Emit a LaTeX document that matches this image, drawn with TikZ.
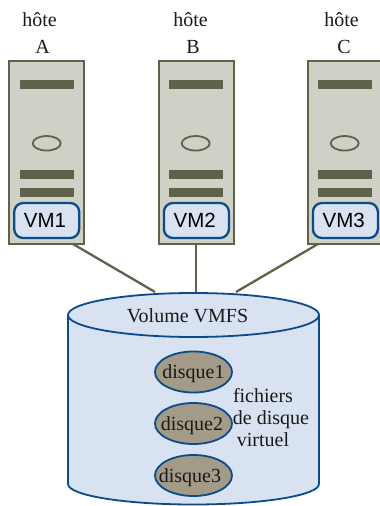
\documentclass[tikz,border=0pt]{standalone}
\usepackage{fontspec}
\setmainfont{Liberation Serif}
\newfontfamily\vmfont{Liberation Sans}
\usetikzlibrary{shapes.geometric}
\definecolor{hostfill}{HTML}{D0D1C6}
\definecolor{hostline}{HTML}{60614A}
\definecolor{bluefill}{HTML}{D8E2F1}
\definecolor{blueline}{HTML}{0B4A8B}
\definecolor{diskfill}{HTML}{A39B87}
\tikzset{
  hostbox/.style={draw=hostline,fill=hostfill,line width=2.2pt,minimum width=75pt,minimum height=183pt,inner sep=0pt},
  hostbar/.style={fill=hostline,draw=none,minimum width=54pt,minimum height=9pt,inner sep=0pt},
  hostled/.style={ellipse,draw=hostline,line width=1.8pt,minimum width=28pt,minimum height=14.5pt,inner sep=0pt},
  vmbox/.style={draw=blueline,fill=bluefill,line width=2.3pt,rounded corners=9pt,minimum width=65pt,minimum height=35pt,inner sep=0pt},
  vmtext/.style={anchor=base,font=\vmfont\fontsize{20.5}{23}\selectfont,text=black,inner sep=0pt},
  disk/.style={ellipse,draw=blueline,fill=diskfill,line width=1.8pt,minimum width=77pt,minimum height=41pt,inner sep=0pt},
  lbl/.style={anchor=base,font=\fontsize{20}{23}\selectfont,inner sep=0pt,text=black!90},
  link/.style={draw=hostline,line width=2.3pt},
  cyl/.style={draw=blueline,fill=bluefill,line width=1.8pt}
}
\begin{document}
\begin{tikzpicture}[x=1pt,y=-1pt]
\useasboundingbox (0,0) rectangle (380,506);
% hosts
\foreach \n/\vm/\dx/\bx/\tx/\lx in {A/VM1/0/0/39.5/42.5,B/VM2/149/149.7/190.5/193,C/VM3/298/298.7/341.5/344}{
  \node[lbl] (t\n) at (\tx,27) {hôte};
  \node[lbl] (l\n) at (\lx,53) {\n};
  \node[hostbox] (host\n) at (46.5+\bx,152.5) {};
  \node[hostbar] (barone\n) at (47+\dx,84.5) {};
  \node[hostbar] (bartwo\n) at (47+\dx,174.5) {};
  \node[hostbar] (barthree\n) at (47+\dx,192.5) {};
  \node[hostled] (led\n) at (46.7+\dx,143.3) {};
  \node[vmbox] (vm\n) at (46.7+\bx,220.5) {};
  \node[vmtext] (vmt\n) at (45+\bx,227.5) {\vm};
}
% connector ends
\coordinate (fromA) at (73,244);
\coordinate (fromB) at (196,244);
\coordinate (fromC) at (318,244);
\coordinate (toA) at (155,292);
\coordinate (toB) at (196,292);
\coordinate (toC) at (236,292);
\draw[link] (fromA) -- (toA);
\draw[link] (fromB) -- (toB);
\draw[link] (fromC) -- (toC);
% cylinder
\draw[cyl] (68,315) -- (68,484) arc[start angle=180,end angle=0,x radius=125.5,y radius=20.5] -- (319,315) -- cycle;
\draw[cyl] (193.5,315) ellipse[x radius=125.5,y radius=22];
\node[lbl] (vol) at (187.5,322.5) {Volume VMFS};
% disks
\node[disk] (d1) at (193.5,372) {};
\node[disk] (d2) at (193.5,423.5) {};
\node[disk] (d3) at (193.5,475.5) {};
\node[lbl] (dt1) at (193.5,378) {disque1};
\node[lbl] (dt2) at (192,430.5) {disque2};
\node[lbl] (dt3) at (190,482) {disque3};
\node[lbl] (f1) at (263,402) {fichiers};
\node[lbl] (f2) at (271,424) {de disque};
\node[lbl] (f3) at (263,446) {virtuel};
\end{tikzpicture}
\end{document}
